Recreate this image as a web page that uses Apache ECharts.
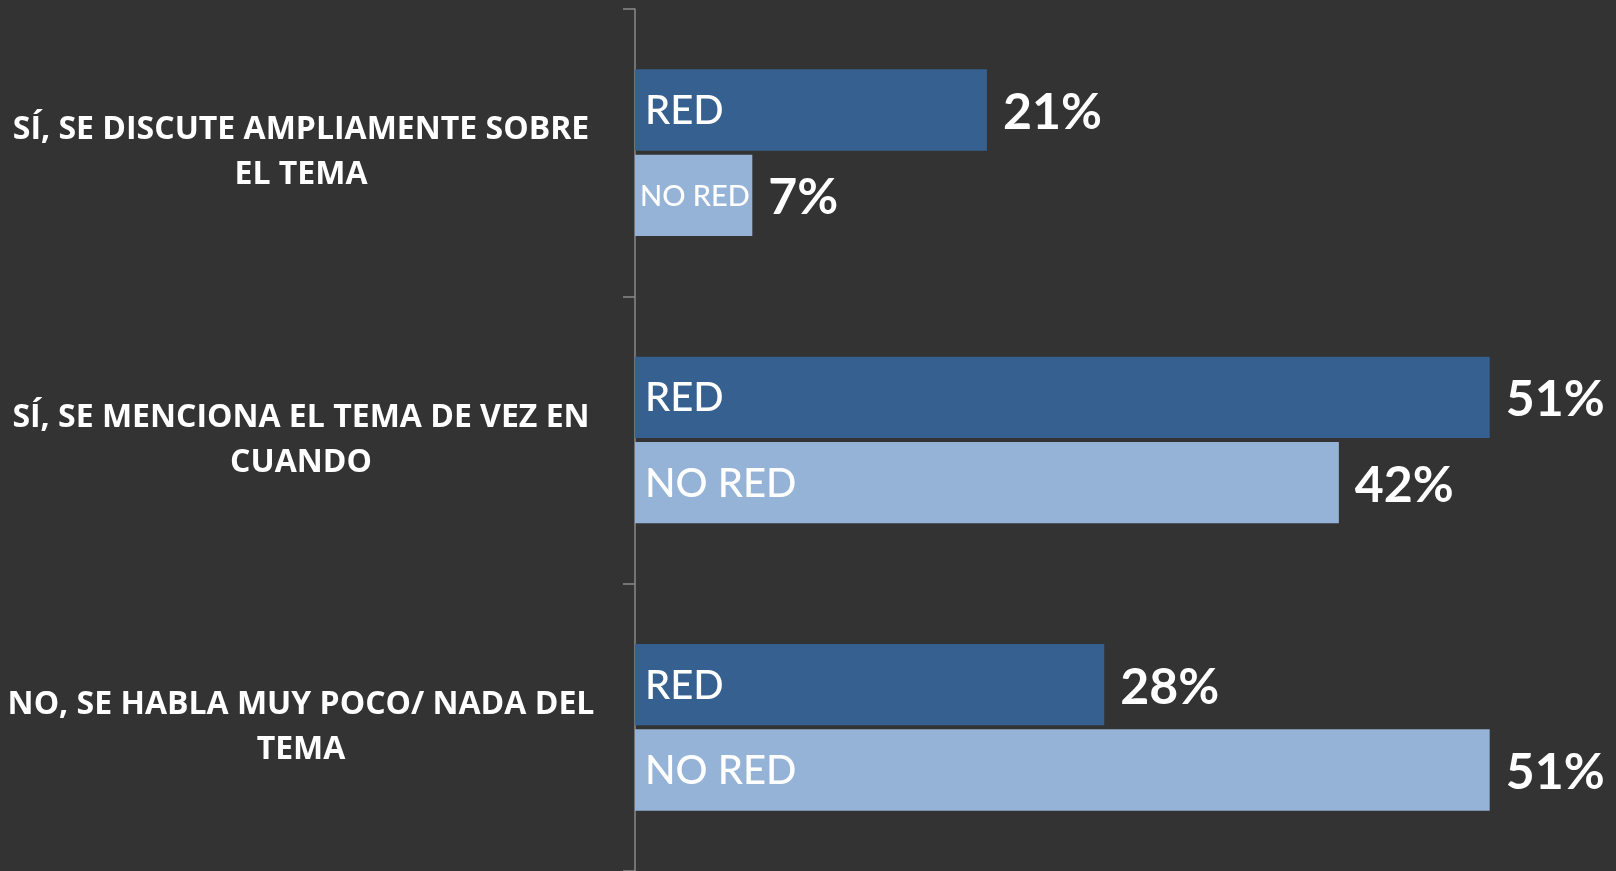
<!DOCTYPE html>
<html>
<head>
<meta charset="utf-8">
<script src="https://cdn.jsdelivr.net/npm/echarts@6/dist/echarts.min.js"></script>
<style>
html,body{margin:0;padding:0;background:#333333;}
#c{width:1616px;height:871px;}
</style>
</head>
<body>
<div id="c"></div>
<script>
var categories = [
  'SÍ, SE DISCUTE AMPLIAMENTE SOBRE\nEL TEMA',
  'SÍ, SE MENCIONA EL TEMA DE VEZ EN\nCUANDO',
  'NO, SE HABLA MUY POCO/ NADA DEL\nTEMA'
];
var seriesNames = ['RED', 'NO RED'];
var redValues = [21, 51, 28];
var noRedValues = [7, 42, 51];

var chart = echarts.init(document.getElementById('c'));

function mainSeries(name, values, color, stack) {
  return {
    name: name,
    type: 'bar',
    stack: stack,
    stackStrategy: 'all',
    barGap: '5%',
    barCategoryGap: '42%',
    itemStyle: { color: color },
    data: values.map(function (v) {
      var item = { value: v };
      if (v < 10) {
        item.label = { fontSize: 29, distance: 5 };
      }
      return item;
    }),
    label: {
      show: true,
      position: 'insideLeft',
      distance: 10,
      offset: [0, 1],
      color: '#ffffff',
      fontFamily: 'Lato',
      fontSize: 40,
      fontWeight: 500,
      formatter: function () { return name; }
    },
    emphasis: { disabled: true }
  };
}

function valueSeries(values, stack) {
  return {
    type: 'bar',
    stack: stack,
    stackStrategy: 'all',
    barGap: '5%',
    barCategoryGap: '42%',
    itemStyle: { color: 'transparent' },
    data: values.map(function () { return 0; }),
    label: {
      show: true,
      position: 'right',
      distance: 16,
      offset: [0, 3],
      color: '#ffffff',
      fontFamily: 'Lato',
      fontSize: 50,
      fontWeight: 'bold',
      formatter: function (p) { return values[p.dataIndex] + '%'; }
    },
    emphasis: { disabled: true },
    silent: true
  };
}

chart.setOption({
  backgroundColor: '#333333',
  animation: false,
  grid: { left: 635, right: 9, top: 9, bottom: 0, containLabel: false },
  xAxis: {
    type: 'value',
    min: 0,
    max: 58,
    show: false
  },
  yAxis: {
    type: 'category',
    inverse: true,
    data: categories,
    axisLine: { show: true, lineStyle: { color: '#8a8a8a', width: 1.5 } },
    axisTick: { show: true, length: 12, lineStyle: { color: '#8a8a8a', width: 1.5 } },
    splitLine: { show: false },
    axisLabel: {
      align: 'center',
      margin: 334,
      color: '#ffffff',
      fontFamily: 'Open Sans',
      fontWeight: 'bold',
      fontSize: 32,
      lineHeight: 45
    }
  },
  series: [
    mainSeries(seriesNames[0], redValues, '#36608f', 'r'),
    valueSeries(redValues, 'r'),
    mainSeries(seriesNames[1], noRedValues, '#95b3d7', 'n'),
    valueSeries(noRedValues, 'n')
  ]
});
</script>
</body>
</html>
